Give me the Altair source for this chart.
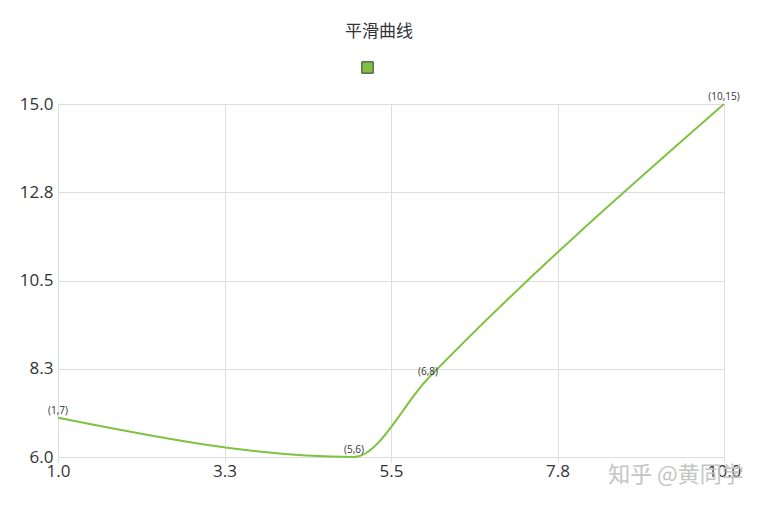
import altair as alt
import pandas as pd

xs = [1, 5, 6, 10]
ys = [7, 6, 8, 15]
labels = ["(1,7)", "(5,6)", "(6,8)", "(10,15)"]
series_name = ["平滑曲线"] * 4
x_ticks = [1.0, 3.25, 5.5, 7.75, 10.0]
y_ticks = [6.0, 8.25, 10.5, 12.75, 15.0]
watermark = "知乎 @黄同学"

df = pd.DataFrame({"x": xs, "y": ys, "label": labels, "series": series_name})

LINE = "#7fc241"
GRID = "#dddddd"
NUMFONT = "Open Sans"

x_enc = alt.X("x:Q", scale=alt.Scale(domain=[1, 10], nice=False, zero=False),
              axis=alt.Axis(values=x_ticks, format=".1f", title=None, labelFontSize=17,
                            labelColor="#333333", labelFont=NUMFONT, domainColor=GRID,
                            tickColor=GRID, tickSize=5, gridColor=GRID, labelPadding=1,
                            labelFlush=False))
y_enc = alt.Y("y:Q", scale=alt.Scale(domain=[6, 15], nice=False, zero=False),
              axis=alt.Axis(values=y_ticks, format=".1f", title=None, labelFontSize=17,
                            labelColor="#333333", labelFont=NUMFONT, domainColor=GRID,
                            ticks=False, gridColor=GRID, labelPadding=5,
                            labelFlush=False))

line = alt.Chart(df).mark_line(interpolate="monotone", strokeWidth=2, color=LINE).encode(
    x=x_enc, y=y_enc
)

legend_layer = alt.Chart(df).mark_point(
    filled=True, shape="square", stroke="#333333", strokeWidth=1, opacity=1
).encode(
    x="x:Q", y="y:Q",
    color=alt.Color("series:N", scale=alt.Scale(domain=["平滑曲线"], range=[LINE]),
                    legend=alt.Legend(title=None, orient="none", legendX=303, legendY=-43,
                                      symbolType="square", symbolFillColor=LINE,
                                      symbolStrokeColor="#333333", symbolStrokeWidth=1,
                                      symbolOpacity=1,
                                      symbolSize=130, labelExpr="''", labelFontSize=1)),
).transform_filter("datum.x > 100")

text = alt.Chart(df).mark_text(fontSize=10, color="#333333", dy=-7, font=NUMFONT).encode(
    x="x:Q", y="y:Q", text="label:N"
)

wm = alt.Chart(pd.DataFrame({"t": [watermark]})).mark_text(
    fontSize=22, color="#c4c4c4", font="Noto Sans CJK SC", align="center", baseline="middle"
).encode(x=alt.value(618), y=alt.value(371), text="t:N")

chart = alt.layer(line, legend_layer, text, wm).properties(
    width=666, height=353,
    title=alt.TitleParams("平滑曲线", fontSize=17, font="Noto Sans CJK SC", color="#333333",
                          fontWeight="normal", anchor="middle", dx=-12, offset=20),
    autosize=alt.AutoSizeParams(type="none"),
    padding={"left": 50, "top": 96, "right": 20, "bottom": 38},
).configure_view(stroke=None).configure(background="white")

chart.save("out.html", embed_options={"renderer": "svg", "actions": False})
